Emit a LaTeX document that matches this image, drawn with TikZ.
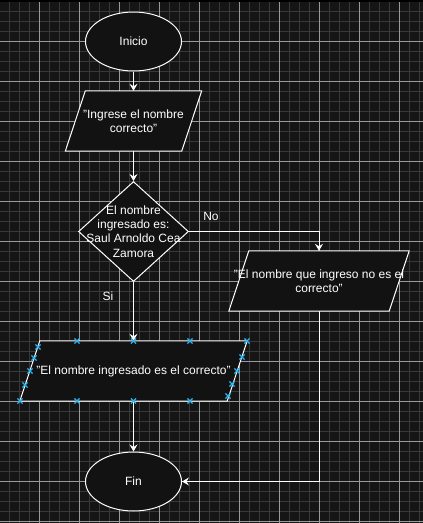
\documentclass[tikz,border=0pt]{standalone}
\usepackage{fontspec}
\setmainfont{Liberation Sans}
\usetikzlibrary{shapes.geometric,arrows.meta}
\definecolor{canvas}{HTML}{151515}
\definecolor{gridminor}{HTML}{383838}
\definecolor{gridmajor}{HTML}{9A9A9A}
\definecolor{shapefill}{HTML}{121212}
\definecolor{handle}{HTML}{29B6F2}

\begin{document}
\begin{tikzpicture}[x=1pt, y=-1pt,
  every node/.style={text=white, font=\fontsize{12}{14.4}\selectfont},
  terminal/.style={ellipse, draw=white, fill=shapefill, line width=1pt,
    minimum width=96pt, minimum height=59pt, inner sep=0pt},
  inout/.style={rectangle, minimum height=60pt, inner sep=0pt},
  outline/.style={draw=white, fill=shapefill, line width=1pt},
  decision/.style={diamond, draw=white, fill=shapefill, line width=1pt,
    minimum width=110pt, minimum height=100pt, inner sep=0pt},
  txt/.style={align=center, inner sep=0pt},
  flow/.style={draw=white, line width=1pt, -{Stealth[length=7pt, width=8pt, inset=2.5pt]}},
  handlemark/.style={draw=handle, line width=1.3pt}]
  \useasboundingbox (0,0) rectangle (423,523);
  \fill[canvas] (0,0) rectangle (423,523);
  % grid
  \foreach \gx in {0,...,42}
    \draw[gridminor, line width=1pt] (\gx*10-0.5,0) -- (\gx*10-0.5,523);
  \foreach \gy in {0,...,52}
    \draw[gridminor, line width=1pt] (0,\gy*10+1.5) -- (423,\gy*10+1.5);
  \foreach \gx in {1,...,10}
    \draw[gridmajor, line width=1pt] (\gx*40-0.5,0) -- (\gx*40-0.5,523);
  \foreach \gy in {1,...,13}
    \draw[gridmajor, line width=1pt] (0,\gy*40+1.5) -- (423,\gy*40+1.5);
  \fill[black] (0,0) rectangle (423,2);

  \node[terminal] (inicio) at (133.5,41.5) {Inicio};
  \node[inout, minimum width=136pt] (ask) at (133.5,121) {};
  \node[decision] (check) at (133.5,231.5) {};
  \node[inout, minimum width=180pt] (wrong) at (319,281) {};
  \node[inout, minimum width=227pt] (right) at (133.5,371) {};
  \node[terminal] (fin) at (133.5,481.5) {Fin};
  % parallelograms
  \foreach \io in {ask,wrong,right}
    \filldraw[outline] ([xshift=20pt]\io.north west) -- (\io.north east)
      -- ([xshift=-20pt]\io.south east) -- (\io.south west) -- cycle;
  \node[txt] (asktext) at (ask.center) {"Ingrese el nombre\\correcto"};
  \node[txt] (checktext) at (check.center) {El nombre\\ingresado es:\\Saul Arnoldo Cea\\Zamora};
  \node[txt] (wrongtext) at (wrong.center) {"El nombre que ingreso no es el\\correcto"};
  \node[txt] (righttext) at (right.center) {"El nombre ingresado es el correcto"};
  \node[txt] (no) at (211,216) {No};
  \node[txt] (si) at (108,296) {Si};

  \draw[flow] (inicio) -- (ask);
  \draw[flow] (ask) -- (check);
  \draw[flow] (check.east) -| (wrong.north);
  \draw[flow] (check) -- (right);
  \draw[flow] (right) -- (fin);
  \draw[flow] (wrong.south) |- (fin.east);

  % selection handles
  \foreach \mx/\my in {77/341, 133.5/341, 190/341, 247/341, 20/401, 77/401, 133.5/401, 190/401,
                       38/347, 34/358, 30/371, 25/385, 242/357, 237/371, 232/384, 228/396}
    \draw[handlemark] (\mx-2.6,\my-2.6) -- (\mx+2.6,\my+2.6) (\mx-2.6,\my+2.6) -- (\mx+2.6,\my-2.6);
\end{tikzpicture}
\end{document}
